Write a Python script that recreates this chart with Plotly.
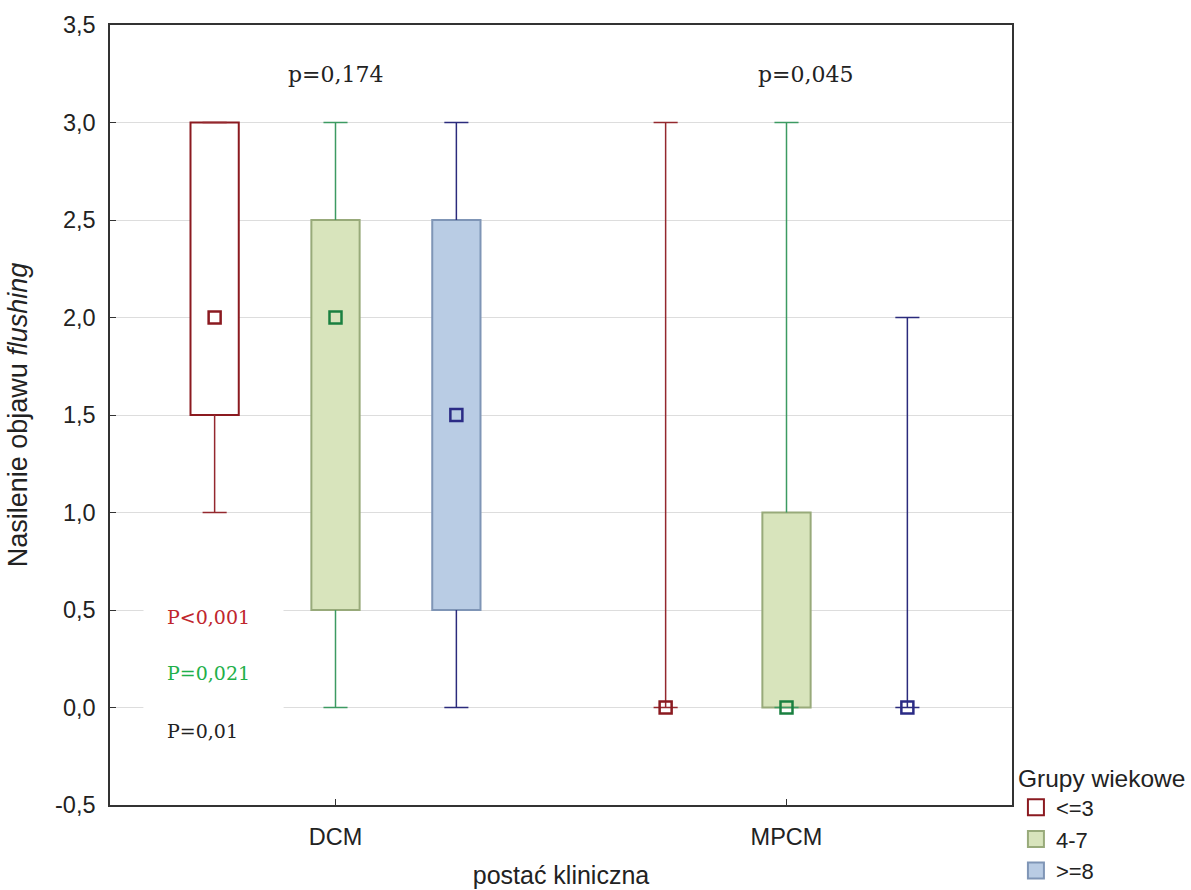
import plotly.graph_objects as go

# ---- data ----
categories = ["DCM", "MPCM"]
cat_pos = [1, 2]
groups = ["<=3", "4-7", ">=8"]
q1 = {"<=3": [1.5, 0.0], "4-7": [0.5, 0.0], ">=8": [0.5, 0.0]}
q3 = {"<=3": [3.0, 0.0], "4-7": [2.5, 1.0], ">=8": [2.5, 0.0]}
median = {"<=3": [2.0, 0.0], "4-7": [2.0, 0.0], ">=8": [1.5, 0.0]}
minimum = {"<=3": [1.0, 0.0], "4-7": [0.0, 0.0], ">=8": [0.0, 0.0]}
maximum = {"<=3": [3.0, 3.0], "4-7": [3.0, 3.0], ">=8": [3.0, 2.0]}
y_tickvals = [-0.5, 0.0, 0.5, 1.0, 1.5, 2.0, 2.5, 3.0, 3.5]
y_ticktext = ["-0,5", "0,0", "0,5", "1,0", "1,5", "2,0", "2,5", "3,0", "3,5"]
top_pvalues = ["p=0,174", "p=0,045"]
side_pvalues = ["P<0,001", "P=0,021", "P=0,01"]

# ---- styles ----
offsets = {"<=3": -0.268, "4-7": 0.0, ">=8": 0.268}
fill = {"<=3": "#ffffff", "4-7": "#d8e4bc", ">=8": "#b9cce4"}
border = {"<=3": "#8b1a20", "4-7": "#98aa7a", ">=8": "#7f95b6"}
whisk = {"<=3": "#94282e", "4-7": "#3c9a62", ">=8": "#2b2b7c"}
mark = {"<=3": "#8b1a20", "4-7": "#1a8040", ">=8": "#2b2b85"}
box_w = 0.107
cap = 0.0267
sans = "Liberation Sans, Arial, sans-serif"
serif = "DejaVu Serif, serif"

fig = go.Figure()

# boxes (zero-height boxes are not drawn)
for g in groups:
    xs = [p + offsets[g] for p in cat_pos]
    heights = [(b - a) if b > a else None for a, b in zip(q1[g], q3[g])]
    fig.add_trace(go.Bar(
        x=xs, base=q1[g], y=heights,
        width=box_w, marker=dict(color=fill[g], line=dict(color=border[g], width=2)),
        showlegend=False, hoverinfo="skip"))

# whiskers (outside the box only)
for g in groups:
    wx, wy = [], []
    for i, p in enumerate(cat_pos):
        c = p + offsets[g]
        wx += [c, c, None, c - cap, c + cap, None, c - cap, c + cap, None, c, c, None]
        wy += [q3[g][i], maximum[g][i], None, maximum[g][i], maximum[g][i], None,
               minimum[g][i], minimum[g][i], None, minimum[g][i], q1[g][i], None]
    fig.add_trace(go.Scatter(x=wx, y=wy, mode="lines", line=dict(color=whisk[g], width=1.5),
                             showlegend=False, hoverinfo="skip", connectgaps=False))

# medians
for g in groups:
    xs = [p + offsets[g] for p in cat_pos]
    fig.add_trace(go.Scatter(x=xs, y=median[g], mode="markers",
                             marker=dict(symbol="square-open", size=12, color=mark[g],
                                         line=dict(width=2.5, color=mark[g])),
                             showlegend=False, hoverinfo="skip"))

# legend entries
for g in groups:
    fig.add_trace(go.Scatter(x=[None], y=[None], mode="markers", name=g,
                             marker=dict(symbol="square", size=16, color=fill[g],
                                         line=dict(width=2, color=border[g]))))

annotations = []
for p, t in zip(cat_pos, top_pvalues):
    annotations.append(dict(x=p, y=3.245, xref="x", yref="y", text=t, showarrow=False,
                            font=dict(family=serif, size=22, color="#222222")))
annotations[1]["x"] = 2.044
side_colors = ["#c0262d", "#1fb04a", "#222222"]
side_y = [0.464, 0.177, -0.12]
for t, yv, col in zip(side_pvalues, side_y, side_colors):
    annotations.append(dict(x=0.5733, y=yv, xref="x", yref="y", text=t, showarrow=False,
                            xanchor="left", align="left", width=93, borderpad=23,
                            bgcolor="white",
                            font=dict(family=serif, size=19, color=col)))

fig.update_layout(
    width=1191, height=890,
    margin=dict(l=110, r=179, t=25, b=85),
    plot_bgcolor="white", paper_bgcolor="white",
    barmode="overlay",
    font=dict(family=sans, size=24, color="#222222"),
    annotations=annotations,
    legend=dict(title=dict(text="Grupy wiekowe", font=dict(size=24.5)),
                xref="container", yref="container",
                x=0.853, xanchor="left", y=0.152, yanchor="top",
                font=dict(size=22), tracegroupgap=0, itemwidth=30,
                bgcolor="rgba(0,0,0,0)"),
    xaxis=dict(range=[0.5, 2.5], tickvals=cat_pos, ticktext=categories,
               showgrid=False, zeroline=False, showline=True, mirror=True,
               linecolor="#333333", linewidth=1.5, ticks="inside", ticklen=6,
               tickcolor="#333333", ticklabelstandoff=10, automargin=False,
               title=dict(text="postać kliniczna", standoff=18, font=dict(size=25)),
               tickfont=dict(size=23.5)),
    yaxis=dict(range=[-0.5, 3.5], tickvals=y_tickvals, ticktext=y_ticktext,
               showgrid=True, gridcolor="#dddddd", gridwidth=1.2, zeroline=False,
               showline=True, mirror=True, linecolor="#333333", linewidth=1.5,
               ticks="inside", ticklen=6, tickcolor="#333333", ticklabelstandoff=8,
               automargin=False,
               title=dict(text="Nasilenie objawu <i>flushing</i>", standoff=20,
                          font=dict(size=27)),
               tickfont=dict(size=23.5)),
)

fig.write_html("out.html")
